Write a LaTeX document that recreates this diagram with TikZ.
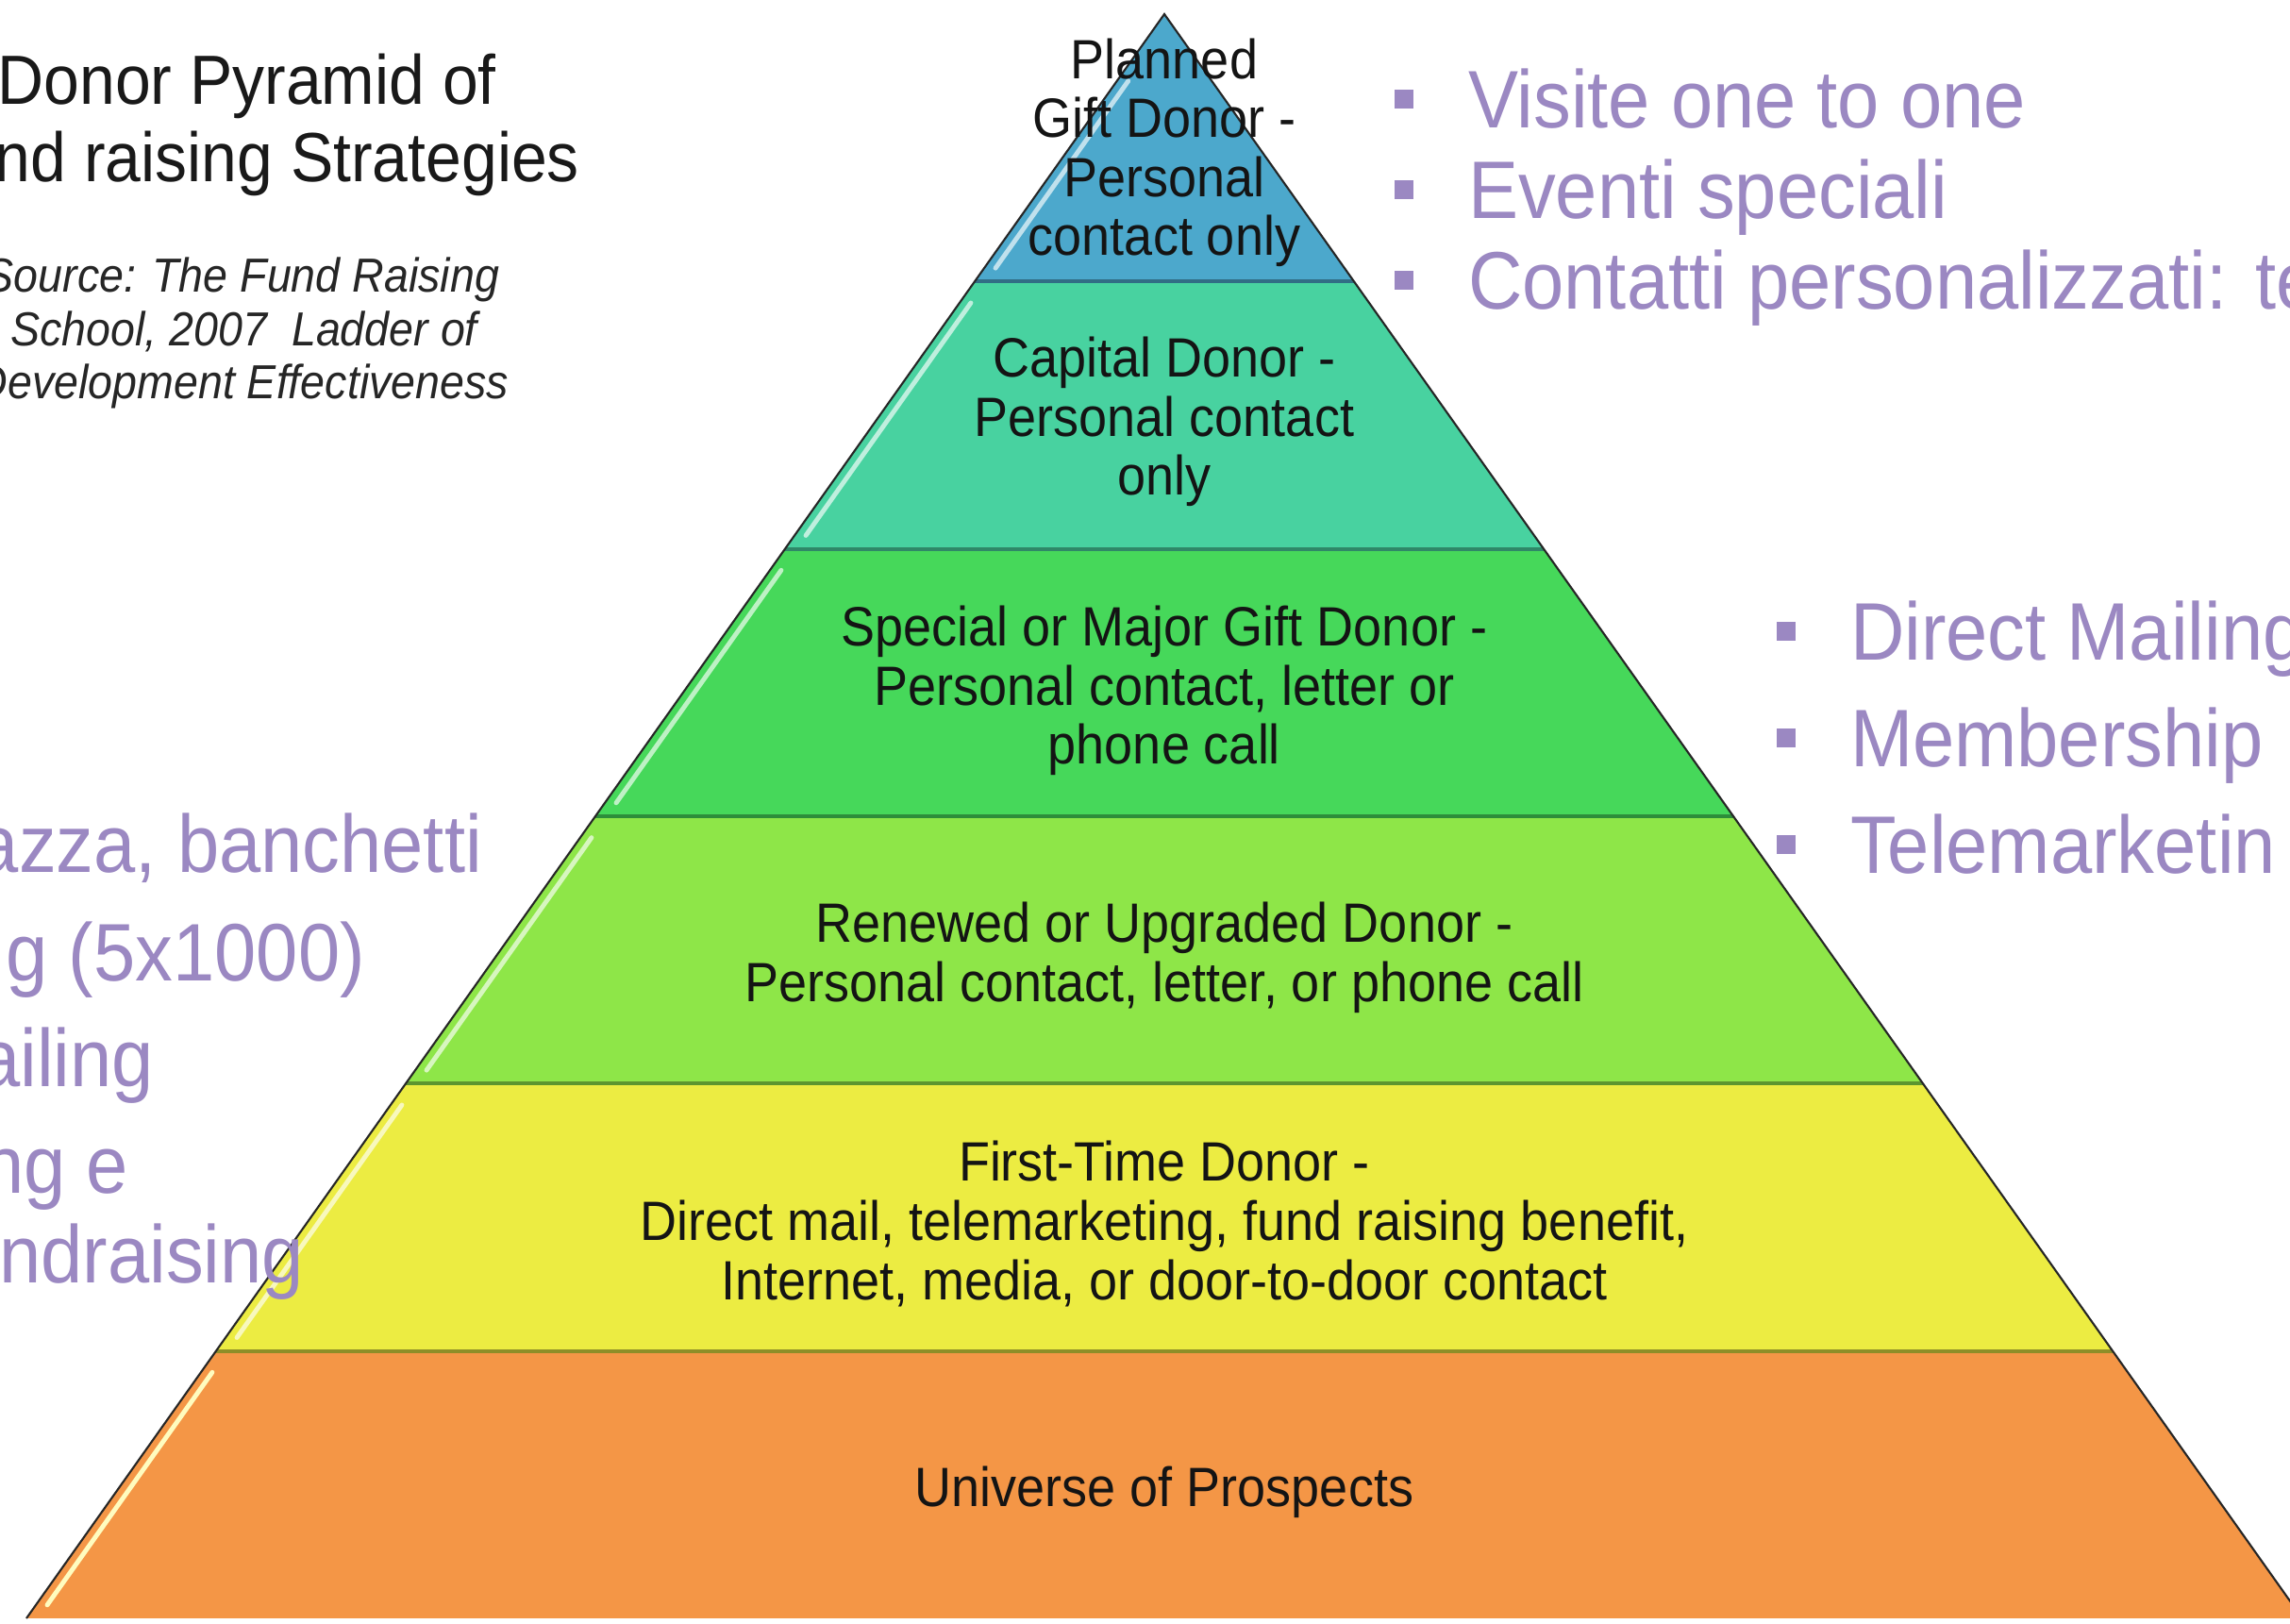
\documentclass[tikz,border=0pt]{standalone}
\usepackage{fontspec}
\setmainfont{Liberation Sans}[FakeStretch=0.92]
\usetikzlibrary{calc}

\definecolor{plannedblue}{HTML}{4CA8CC}
\definecolor{capitalteal}{HTML}{48D2A0}
\definecolor{specialgreen}{HTML}{46D85A}
\definecolor{renewedgreen}{HTML}{8EE648}
\definecolor{firstyellow}{HTML}{ECEC42}
\definecolor{universeorange}{HTML}{F49646}
\definecolor{listpurple}{HTML}{9B88C2}

\newcommand{\sqb}{\rule[0.21cm]{0.2cm}{0.2cm}\hspace{0.58cm}}

\begin{document}
\begin{tikzpicture}[
    every node/.style={inner sep=0pt, outer sep=0pt},
    bandtext/.style={font=\fontsize{16.7}{17.8}\selectfont, align=center, text=black!92},
    titletext/.style={font=\fontsize{21}{25}\selectfont, text=black!90, anchor=base east},
    sourcetext/.style={font=\fontsize{14.4}{16}\selectfont\itshape, text=black!85, anchor=base east},
    rightitem/.style={font=\fontsize{24.6}{29}\selectfont, text=listpurple, anchor=base west},
    leftitem/.style={font=\fontsize{24.6}{29}\selectfont, text=listpurple, anchor=base east},
    hilite/.style={line width=1.4pt, line cap=round},
    sepline/.style={line width=1.2pt}
]
\useasboundingbox (0,0) rectangle (24.27,17.21);
\fill[white] (0,0) rectangle (24.27,17.21);

% Corners
\coordinate (apex) at (12.34,17.06);
\coordinate (bl) at (0.28,0.06);
\coordinate (br) at (24.40,0.06);
\coordinate (l1) at ($(apex)!0.16667!(bl)$);
\coordinate (l2) at ($(apex)!0.33333!(bl)$);
\coordinate (l3) at ($(apex)!0.5!(bl)$);
\coordinate (l4) at ($(apex)!0.66667!(bl)$);
\coordinate (l5) at ($(apex)!0.83333!(bl)$);
\coordinate (r1) at ($(apex)!0.16667!(br)$);
\coordinate (r2) at ($(apex)!0.33333!(br)$);
\coordinate (r3) at ($(apex)!0.5!(br)$);
\coordinate (r4) at ($(apex)!0.66667!(br)$);
\coordinate (r5) at ($(apex)!0.83333!(br)$);

% Bands
\fill[plannedblue] (apex) -- (l1) -- (r1) -- cycle;
\fill[capitalteal] (l1) -- (l2) -- (r2) -- (r1) -- cycle;
\fill[specialgreen] (l2) -- (l3) -- (r3) -- (r2) -- cycle;
\fill[renewedgreen] (l3) -- (l4) -- (r4) -- (r3) -- cycle;
\fill[firstyellow] (l4) -- (l5) -- (r5) -- (r4) -- cycle;
\fill[universeorange] (l5) -- (bl) -- (br) -- (r5) -- cycle;

% Light streaks on the left side
\draw[hilite, plannedblue!35!white] ($(apex)!0.25!(l1) + (0.12,0)$) -- ($(apex)!0.95!(l1) + (0.12,0)$);
\draw[hilite, capitalteal!35!white] ($(l1)!0.08!(l2) + (0.12,0)$) -- ($(l1)!0.95!(l2) + (0.12,0)$);
\draw[hilite, specialgreen!35!white] ($(l2)!0.08!(l3) + (0.12,0)$) -- ($(l2)!0.95!(l3) + (0.12,0)$);
\draw[hilite, renewedgreen!35!white] ($(l3)!0.08!(l4) + (0.12,0)$) -- ($(l3)!0.95!(l4) + (0.12,0)$);
\draw[hilite, firstyellow!35!white] ($(l4)!0.08!(l5) + (0.12,0)$) -- ($(l4)!0.95!(l5) + (0.12,0)$);
\draw[hilite, yellow!25!white] ($(l5)!0.08!(bl) + (0.12,0)$) -- ($(l5)!0.95!(bl) + (0.12,0)$);

% Band edges
\draw[sepline, plannedblue!65!black] (l1) -- (r1);
\draw[sepline, capitalteal!65!black] (l2) -- (r2);
\draw[sepline, specialgreen!65!black] (l3) -- (r3);
\draw[sepline, renewedgreen!65!black] (l4) -- (r4);
\draw[sepline, firstyellow!60!black] (l5) -- (r5);
\draw[line width=0.6pt, black!85] (bl) -- (apex) -- (br);

% Band labels
\node[bandtext] (planned) at (12.34,15.59) {Planned\\Gift Donor -\\Personal\\contact only};
\node[bandtext] (capital) at (12.34,12.74) {Capital Donor -\\Personal contact\\only};
\node[bandtext] (special) at (12.34,9.89) {Special or Major Gift Donor -\\Personal contact, letter or\\phone call};
\node[bandtext] (renewed) at (12.34,7.06) {Renewed or Upgraded Donor -\\Personal contact, letter, or phone call};
\node[bandtext] (firsttime) at (12.34,4.24) {First-Time Donor -\\Direct mail, telemarketing, fund raising benefit,\\Internet, media, or door-to-door contact};
\node[bandtext] (universe) at (12.34,1.40) {Universe of Prospects};

% Title and source
\node[titletext] (title1) at (5.26,16.10) {Donor Pyramid of};
\node[titletext] (title2) at (6.14,15.28) {nd raising Strategies};
\node[sourcetext] (source1) at (5.29,14.11) {Source: The Fund Raising};
\node[sourcetext] (source2) at (5.06,13.54) {School, 2007\ \ Ladder of};
\node[sourcetext] (source3) at (5.39,12.98) {Development Effectiveness};

% Right lists
\node[rightitem] (visite) at (14.78,15.85) {\sqb Visite one to one};
\node[rightitem] (eventi) at (14.78,14.89) {\sqb Eventi speciali};
\node[rightitem] (contatti) at (14.78,13.93) {\sqb Contatti personalizzati: te};
\node[rightitem] (direct) at (18.83,10.21) {\sqb Direct Mailing};
\node[rightitem] (member) at (18.83,9.08) {\sqb Membership};
\node[rightitem] (tele) at (18.83,7.95) {\sqb Telemarketin};

% Left list
\node[leftitem] (piazza) at (5.11,7.96) {azza, banchetti};
\node[leftitem] (cinque) at (3.87,6.81) {g (5x1000)};
\node[leftitem] (mailing) at (1.63,5.69) {ailing};
\node[leftitem] (nge) at (1.36,4.56) {ng e};
\node[leftitem] (fundr) at (3.22,3.61) {ndraising};

\end{tikzpicture}
\end{document}
